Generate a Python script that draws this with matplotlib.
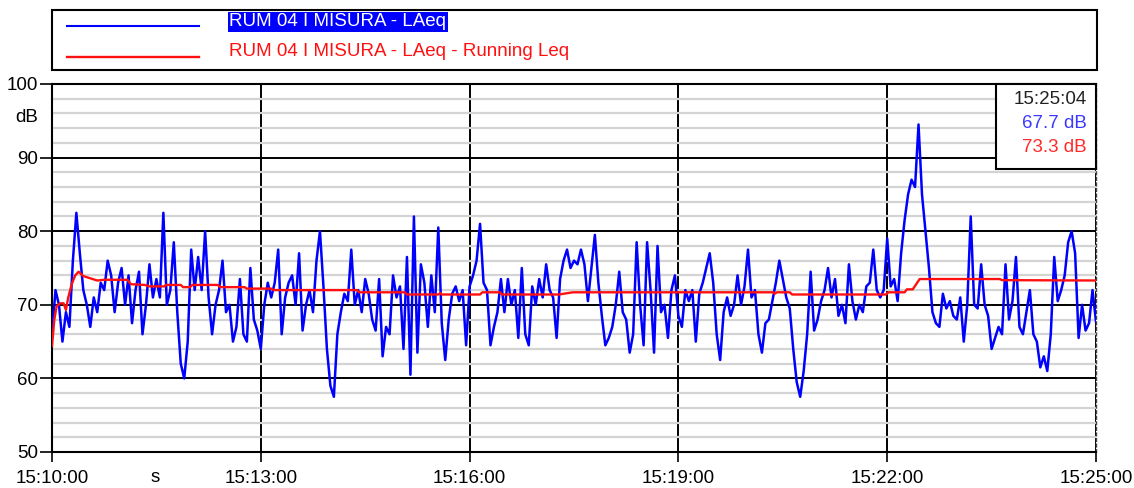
import matplotlib
matplotlib.use('Agg')
import matplotlib.pyplot as plt
import numpy as np
from matplotlib.patches import Rectangle
from matplotlib.lines import Line2D

plt.rcParams['font.family'] = ['Liberation Sans', 'DejaVu Sans']

# ---------------- data ----------------
# LAeq (dB), one reading every 3 s from 15:10:00 to 15:25:00
laeq_step_s = 3
laeq = [
    66, 72, 70, 65, 69, 67, 76, 82.5, 77, 72,
    70, 67, 71, 69, 73, 72, 76, 74, 69, 73,
    75, 70, 74, 67.5, 72, 74.5, 66, 70, 75.5, 71,
    73.5, 71, 82.5, 70, 72, 78.5, 69, 62, 60, 65,
    77.5, 72, 76.5, 72, 80, 71, 66, 70, 72, 76,
    69, 70, 65, 67, 73.5, 66, 65, 75, 68, 66.5,
    64, 70, 73, 71, 73, 77.5, 66, 71, 73, 74,
    70, 77, 66.5, 70, 72, 69, 76, 80, 72.5, 64,
    59, 57.5, 66, 69, 71.5, 70.5, 77.5, 70, 72, 69,
    73.5, 71.5, 68, 66.5, 73.5, 63, 67, 66, 74, 71,
    72.5, 64, 76.5, 60.5, 82, 63.5, 75.5, 73, 67, 74,
    69, 80.5, 67.5, 62.5, 68, 71.5, 72.5, 70.5, 72, 64.5,
    72.5, 74, 76, 81, 73, 72, 64.5, 67, 69, 73.5,
    69, 73.5, 70, 72, 65.5, 75, 66, 64.5, 72.5, 70,
    73.5, 71, 75.5, 72, 71, 65.5, 73.5, 76, 77.5, 75,
    76, 75.5, 77.5, 75.5, 70.5, 75, 79.5, 73, 68.5, 64.5,
    65.5, 67, 70, 74.5, 69, 68, 63.5, 66, 78.5, 70,
    64.5, 78.5, 72, 63.5, 78, 69, 70, 65.5, 72, 74,
    68.5, 67, 72, 70.5, 72, 65, 71.5, 73, 75, 77,
    73, 66, 62.5, 69, 71, 68.5, 70, 74, 70, 72.5,
    77.5, 71, 72, 66, 63.5, 67.5, 68, 70.5, 73, 76,
    73.5, 71, 69.5, 64, 59.5, 57.5, 61, 66, 74.5, 66.5,
    68, 70.5, 72, 75, 71, 73.5, 68.5, 70, 67.5, 75.5,
    70.5, 68, 70, 69, 72.5, 73, 77.5, 72, 71, 72,
    79, 72.5, 73.5, 70.5, 77, 81.5, 85, 87, 86, 94.5,
    85, 80, 75, 69, 67.5, 67, 71.5, 69.5, 70.5, 68.5,
    68, 71, 65, 70, 82, 70, 69.5, 75.5, 70, 68.5,
    64, 65.5, 67, 66, 75.5, 68, 70.5, 76.5, 67, 66,
    69, 72, 66, 65, 61.5, 63, 61, 66, 76.5, 70.5,
    72, 74, 78.5, 80, 77, 65.5, 70, 66.5, 67.5, 72,
    67.7,
]
laeq_t = np.arange(len(laeq)) * laeq_step_s

# Running Leq (dB) read at its breakpoints
running_t = [0, 2, 4, 7, 10, 12, 14, 17, 20, 23, 27, 33, 39, 45, 65, 68, 80, 84,
             97, 98, 111, 113, 119, 121, 143, 145, 166, 168, 189, 191, 263, 265,
             304, 306, 333, 335, 336, 369, 371, 386, 388, 437, 441, 449, 622, 623,
             625, 636, 638, 719, 721, 735, 737, 742, 745, 748, 817, 819, 900]
running = [64.4, 68, 69.8, 70.2, 70.2, 69.3, 71, 72.8, 74, 74.5, 73.9, 73.6, 73.3,
           73.4, 73.4, 72.8, 72.7, 72.5, 72.5, 72.7, 72.7, 72.4, 72.4, 72.7, 72.7,
           72.4, 72.4, 72.2, 72.2, 72.0, 72.0, 71.7, 71.7, 71.4, 71.4, 71.6, 71.4,
           71.4, 71.7, 71.7, 71.4, 71.4, 71.5, 71.7, 71.7, 71.5, 71.7, 71.7, 71.4,
           71.4, 71.7, 71.7, 72.1, 72.1, 72.8, 73.5, 73.5, 73.35, 73.3]

x_ticks = [0, 180, 360, 540, 720, 900]
x_labels = ['15:10:00', '15:13:00', '15:16:00', '15:19:00', '15:22:00', '15:25:00']
y_ticks = [50, 60, 70, 80, 90, 100]
series_names = ['RUM 04 I MISURA - LAeq', 'RUM 04 I MISURA - LAeq - Running Leq']
cursor_time = '15:25:04'
cursor_values = ['67.7 dB', '73.3 dB']

BLUE = '#0000ff'
RED = '#ff1010'
FS = 13.5

# ---------------- figure ----------------
W, H = 1134, 488
fig = plt.figure(figsize=(W / 100, H / 100), dpi=100)
fig.patch.set_facecolor('white')


def fx(x):
    return x / W


def fy(y):
    return 1 - y / H


ax = fig.add_axes([fx(52), fy(452), fx(1096) - fx(52), fy(84) - fy(452)])
ax.plot(laeq_t, laeq, color=BLUE, lw=1.8, zorder=3)
ax.plot(running_t, running, color=RED, lw=1.7, zorder=4)

ax.set_xlim(0, 900)
ax.set_ylim(50, 100)
ax.set_xticks(x_ticks)
ax.set_xticklabels(x_labels)
ax.set_yticks(y_ticks)
ax.set_yticklabels([str(v) for v in y_ticks])
ax.set_yticks(np.arange(50, 101, 2), minor=True)

ax.grid(True, which='minor', axis='y', color='#d4d4d4', lw=1.6, zorder=0)
ax.grid(True, which='major', axis='y', color='black', lw=1.4, zorder=1)
ax.grid(True, which='major', axis='x', color='black', lw=1.4, zorder=1)
ax.set_axisbelow(True)

ax.tick_params(axis='x', which='major', length=7, width=1.2, pad=6,
               labelsize=FS, colors='black')
ax.tick_params(axis='y', which='major', length=9, width=1.2, pad=1,
               labelsize=FS, colors='black')
ax.tick_params(axis='y', which='minor', length=0)

for side in ['left', 'top', 'bottom']:
    ax.spines[side].set_color('black')
    ax.spines[side].set_linewidth(1.5)
ax.spines['right'].set_color('#444444')
ax.spines['right'].set_linewidth(1.0)
ax.spines['right'].set_linestyle((0, (2, 2)))

# unit labels
fig.text(fx(38), fy(117), 'dB', ha='right', va='center', fontsize=FS)
fig.text(fx(155), fy(478), 's', ha='center', va='center', fontsize=FS)

# legend box
fig.patches.append(Rectangle((fx(52), fy(70)), fx(1097) - fx(52), fy(10) - fy(70),
                             transform=fig.transFigure, fill=False,
                             edgecolor='black', lw=1.5))
fig.lines.append(Line2D([fx(67), fx(199)], [fy(26), fy(26)], color=BLUE, lw=1.5,
                        transform=fig.transFigure))
fig.lines.append(Line2D([fx(67), fx(199)], [fy(57), fy(57)], color=RED, lw=1.7,
                        transform=fig.transFigure))
fig.text(fx(229), fy(22), series_names[0], ha='left', va='center', fontsize=FS,
         color='white',
         bbox=dict(boxstyle='square,pad=0.08', fc=BLUE, ec='none'))
fig.text(fx(229), fy(52), series_names[1], ha='left', va='center', fontsize=FS,
         color=RED)

# cursor info box
fig.patches.append(Rectangle((fx(996), fy(169)), fx(1096) - fx(996), fy(84) - fy(169),
                             transform=fig.transFigure, facecolor='white',
                             edgecolor='black', lw=1.5, zorder=10))
fig.text(fx(1087), fy(100), cursor_time, ha='right', va='center', fontsize=FS,
         color='#222222', zorder=11)
fig.text(fx(1087), fy(124), cursor_values[0], ha='right', va='center', fontsize=FS,
         color='#3a3aff', zorder=11)
fig.text(fx(1087), fy(147), cursor_values[1], ha='right', va='center', fontsize=FS,
         color='#ff2a2a', zorder=11)

fig.savefig('out.png', dpi=100)
